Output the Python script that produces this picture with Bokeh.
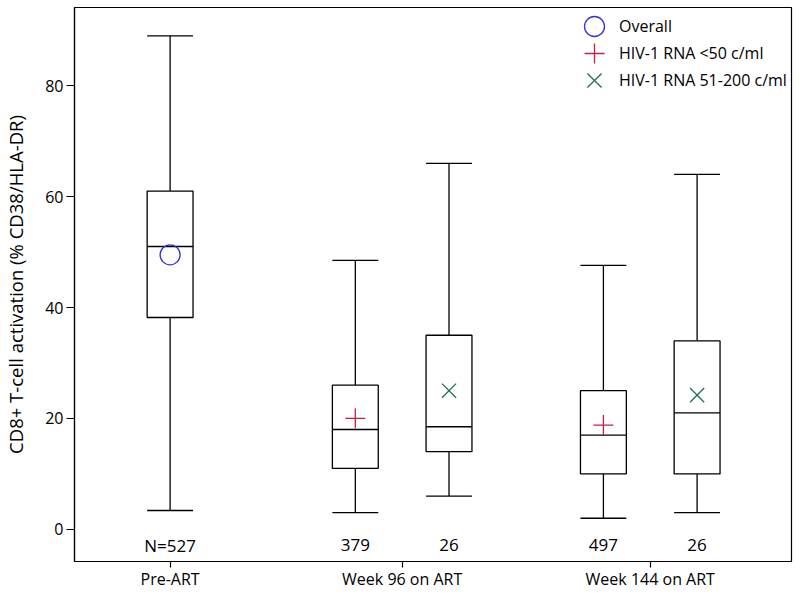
from bokeh.plotting import figure
from bokeh.models import FixedTicker, Range1d, Legend, LegendItem, ColumnDataSource
from bokeh.core.properties import value
from bokeh.embed import file_html
from bokeh.resources import INLINE

# ---- data ----
groups = ["Pre-ART", "Week 96 on ART", "Week 144 on ART"]
box_group = [0, 1, 1, 2, 2]
box_series = ["Overall", "HIV-1 RNA <50 c/ml", "HIV-1 RNA 51-200 c/ml",
              "HIV-1 RNA <50 c/ml", "HIV-1 RNA 51-200 c/ml"]
whisker_low = [3.4, 3.0, 6.0, 2.0, 3.0]
q1 = [38.2, 11.0, 14.0, 10.0, 10.0]
median = [51.0, 18.0, 18.5, 17.0, 21.0]
q3 = [61.0, 26.0, 35.0, 25.0, 34.0]
whisker_high = [89.0, 48.5, 66.0, 47.6, 64.0]
mean = [49.5, 20.0, 25.0, 18.8, 24.2]
n_labels = ["N=527", "379", "26", "497", "26"]

# ---- layout (x positions) ----
group_pos = [2.0, 6.855, 12.045]
offset = {"Overall": 0.0, "HIV-1 RNA <50 c/ml": -0.98, "HIV-1 RNA 51-200 c/ml": 0.98}
half_w = 0.48
xc = [group_pos[g] + offset[s] for g, s in zip(box_group, box_series)]

FONT = "Open Sans"

p = figure(width=800, height=596, output_backend="svg", toolbar_location=None,
           x_range=Range1d(0, 15), y_range=Range1d(-5.8, 94.1),
           min_border_left=71, min_border_right=9, min_border_top=7, min_border_bottom=35)
p.grid.visible = False
p.background_fill_color = "white"
p.border_fill_color = "white"
p.outline_line_color = "black"
p.outline_line_width = 1.2

src = ColumnDataSource(dict(
    x=xc, left=[x - half_w for x in xc], right=[x + half_w for x in xc],
    lo=whisker_low, q1=q1, med=median, q3=q3, hi=whisker_high, mean=mean,
    n=n_labels))

LW = 1.3
# whiskers
p.segment(x0="x", y0="q3", x1="x", y1="hi", source=src, line_color="black", line_width=LW)
p.segment(x0="x", y0="lo", x1="x", y1="q1", source=src, line_color="black", line_width=LW)
# caps
p.segment(x0="left", y0="hi", x1="right", y1="hi", source=src, line_color="black", line_width=LW)
p.segment(x0="left", y0="lo", x1="right", y1="lo", source=src, line_color="black", line_width=LW)
# boxes
p.quad(left="left", right="right", bottom="q1", top="q3", source=src,
       fill_color="white", line_color="black", line_width=LW)
# medians
p.segment(x0="left", y0="med", x1="right", y1="med", source=src, line_color="black", line_width=LW)

# means
idx_overall = [i for i, s in enumerate(box_series) if s == "Overall"]
idx_50 = [i for i, s in enumerate(box_series) if s == "HIV-1 RNA <50 c/ml"]
idx_200 = [i for i, s in enumerate(box_series) if s == "HIV-1 RNA 51-200 c/ml"]

r_o = p.scatter(x=[xc[i] for i in idx_overall], y=[mean[i] for i in idx_overall],
                marker="circle", size=20, fill_color=None, line_color="#3333dd", line_width=1.3)
r_p = p.scatter(x=[xc[i] for i in idx_50], y=[mean[i] for i in idx_50],
                marker="cross", size=20, line_color="#cc1f45", line_width=1.3)
r_x = p.scatter(x=[xc[i] for i in idx_200], y=[mean[i] for i in idx_200],
                marker="x", size=20, line_color="#1f6e5e", line_width=1.3)

# N labels
p.text(x="x", y=-2.9, text="n", source=src, text_align="center", text_baseline="middle",
       text_font=value(FONT), text_font_size="17px", text_color="black")

# axes
p.xaxis.ticker = FixedTicker(ticks=group_pos)
p.xaxis.major_label_overrides = {gp: g for gp, g in zip(group_pos, groups)}
p.yaxis.ticker = FixedTicker(ticks=[0, 20, 40, 60, 80])
for ax in (p.xaxis[0], p.yaxis[0]):
    ax.axis_line_color = "black"
    ax.axis_line_width = 1.2
    ax.major_tick_line_color = "black"
    ax.major_tick_line_width = 1.2
    ax.minor_tick_line_color = None
    ax.major_tick_in = 0
    ax.major_label_text_font = FONT
    ax.major_label_text_font_size = "16px"
    ax.major_label_text_color = "black"
p.xaxis.major_tick_out = 6
p.yaxis.major_tick_out = 8
p.yaxis.major_label_standoff = 3
p.xaxis.major_label_standoff = 0
p.yaxis.axis_label = "CD8+ T-cell activation (% CD38/HLA-DR)"
p.yaxis.axis_label_text_font = FONT
p.yaxis.axis_label_text_font_size = "18.5px"
p.yaxis.axis_label_text_font_style = "normal"
p.yaxis.axis_label_text_color = "black"
p.yaxis.axis_label_standoff = 14

# legend: one Legend per entry so the large markers can sit 27px apart
legend_entries = [("Overall", r_o, 510), ("HIV-1 RNA <50 c/ml", r_p, 483),
                  ("HIV-1 RNA 51-200 c/ml", r_x, 456)]
for label, rend, vy in legend_entries:
    lg = Legend(items=[LegendItem(label=label, renderers=[rend])],
                location=(495, vy), glyph_width=50, glyph_height=50,
                padding=0, margin=0, label_standoff=-5,
                border_line_color=None, background_fill_alpha=0,
                label_text_font=FONT, label_text_font_size="16px", label_text_color="black")
    p.add_layout(lg, "center")

open("out.html", "w").write(file_html(p, INLINE))
